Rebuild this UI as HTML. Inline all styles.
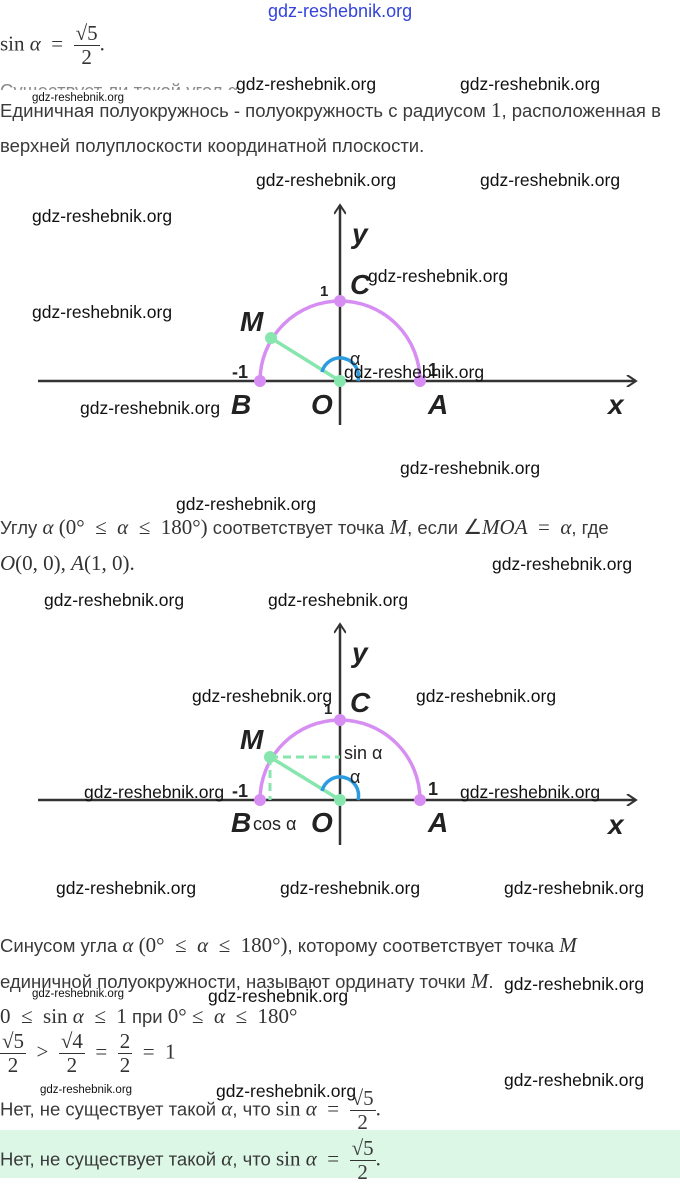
<!DOCTYPE html>
<html><head><meta charset="utf-8"><style>
body{margin:0;width:680px;height:1178px;background:#fff;position:relative;overflow:hidden;font-family:"Liberation Sans",sans-serif;color:#333}
.a{position:absolute;white-space:nowrap}
.t{font-size:18.5px;color:#3a3a3a}
.m{font-family:"Liberation Serif",serif;font-size:21px;color:#333}
.w{font-family:"Liberation Sans",sans-serif;font-size:17.5px;color:#111}
.ws{font-family:"Liberation Sans",sans-serif;font-size:11.5px;color:#111}
.fr{display:inline-block;vertical-align:middle;text-align:center;line-height:23px;font-family:"Liberation Serif",serif;font-size:21px}
.fr span{display:block}
.fr .n{border-bottom:1px solid #333;padding:0 2px}
</style></head><body>
<div class="a" style="left:268px;top:1px;font-size:18px;color:#3344dd">gdz-reshebnik.org</div>
<div class="a m" style="left:0;top:22px">sin <i>α</i> &nbsp;= &nbsp;<span class="fr"><span class="n">√5</span><span>2</span></span>.</div>
<div class="a t" style="left:0;top:80px;color:#888;clip-path:inset(0 0 55% 0)">Существует ли такой угол α</div>
<div class="a ws" style="left:32px;top:92px">gdz-reshebnik.org</div>
<div class="a w" style="left:236px;top:74px">gdz-reshebnik.org</div>
<div class="a w" style="left:460px;top:74px">gdz-reshebnik.org</div>
<div class="a t" style="left:0;top:98px">Единичная полуокружнось - полуокружность с радиусом <span class="m">1</span>, расположенная в</div>
<div class="a t" style="left:0;top:135px">верхней полуплоскости координатной плоскости.</div>

<svg class="a" style="left:0;top:0" width="680" height="1178">
<defs><marker id="ar" markerWidth="12" markerHeight="12" refX="10" refY="6" orient="auto" markerUnits="userSpaceOnUse"><path d="M1,0 L10,6 L1,12" fill="none" stroke="#333" stroke-width="2"/></marker></defs>
<g stroke="#333" stroke-width="2.5" fill="none">
<line x1="38" y1="381" x2="636" y2="381" marker-end="url(#ar)"/>
<line x1="340" y1="425" x2="340" y2="205" marker-end="url(#ar)"/>
<line x1="38" y1="800" x2="636" y2="800" marker-end="url(#ar)"/>
<line x1="340" y1="845" x2="340" y2="624" marker-end="url(#ar)"/>
</g>
<g fill="none">
<path d="M260,381 A80,80 0 0 1 420,381" stroke="#d68ef2" stroke-width="3.5"/>
<line x1="271" y1="338" x2="340" y2="381" stroke="#86e6ad" stroke-width="3.5"/>
<path d="M322,372 A18,18 0 0 1 358,381" stroke="#2d9be0" stroke-width="3.5"/>
<path d="M260,800 A80,80 0 0 1 420,800" stroke="#d68ef2" stroke-width="3.5"/>
<line x1="270" y1="757" x2="340" y2="800" stroke="#86e6ad" stroke-width="3.5"/>
<line x1="270" y1="757" x2="340" y2="757" stroke="#86e6ad" stroke-width="3" stroke-dasharray="8,5"/>
<line x1="270" y1="757" x2="270" y2="800" stroke="#86e6ad" stroke-width="3" stroke-dasharray="8,5"/>
<path d="M322,791 A18,18 0 0 1 358,800" stroke="#2d9be0" stroke-width="3.5"/>
</g>
<g fill="#d68ef2"><circle cx="260" cy="381" r="6"/><circle cx="420" cy="381" r="6"/><circle cx="340" cy="301" r="6"/>
<circle cx="260" cy="800" r="6"/><circle cx="420" cy="800" r="6"/><circle cx="340" cy="720" r="6"/></g>
<g fill="#86e6ad"><circle cx="271" cy="338" r="6"/><circle cx="340" cy="381" r="6"/><circle cx="270" cy="757" r="6"/><circle cx="340" cy="800" r="6"/></g>
<g font-family="Liberation Sans,sans-serif" font-style="italic" font-weight="bold" font-size="28" fill="#222">
<text x="352" y="243">y</text><text x="350" y="294">C</text><text x="240" y="331">M</text><text x="231" y="414">B</text><text x="311" y="414">O</text><text x="428" y="414">A</text><text x="608" y="414">x</text>
<text x="352" y="662">y</text><text x="350" y="712">C</text><text x="240" y="749">M</text><text x="231" y="832">B</text><text x="311" y="832">O</text><text x="428" y="832">A</text><text x="608" y="834">x</text>
</g>
<g font-family="Liberation Sans,sans-serif" font-size="18" fill="#222">
<text x="320" y="296" font-weight="bold" font-size="15">1</text><text x="232" y="378" font-weight="bold">-1</text><text x="428" y="376" font-weight="bold">1</text><text x="350" y="365">α</text>
<text x="324" y="714" font-weight="bold" font-size="15">1</text><text x="232" y="797" font-weight="bold">-1</text><text x="428" y="795" font-weight="bold">1</text><text x="350" y="783">α</text>
<text x="344" y="759">sin α</text><text x="253" y="830">cos α</text>
</g>
</svg>

<div class="a w" style="left:256px;top:170px">gdz-reshebnik.org</div>
<div class="a w" style="left:480px;top:170px">gdz-reshebnik.org</div>
<div class="a w" style="left:32px;top:206px">gdz-reshebnik.org</div>
<div class="a w" style="left:368px;top:266px">gdz-reshebnik.org</div>
<div class="a w" style="left:32px;top:302px">gdz-reshebnik.org</div>
<div class="a w" style="left:344px;top:362px">gdz-reshebnik.org</div>
<div class="a w" style="left:80px;top:398px">gdz-reshebnik.org</div>
<div class="a w" style="left:400px;top:458px">gdz-reshebnik.org</div>
<div class="a w" style="left:176px;top:494px">gdz-reshebnik.org</div>
<div class="a t" style="left:0;top:515px">Углу <span class="m"><i>α</i> (0° &nbsp;≤ &nbsp;<i>α</i> &nbsp;≤ &nbsp;180°)</span> соответствует точка <span class="m"><i>M</i></span>, если <span class="m">∠<i>MOA</i> &nbsp;= &nbsp;<i>α</i></span>, где</div>
<div class="a m" style="left:0;top:551px"><i>O</i>(0, 0), <i>A</i>(1, 0).</div>
<div class="a w" style="left:492px;top:554px">gdz-reshebnik.org</div>
<div class="a w" style="left:44px;top:590px">gdz-reshebnik.org</div>
<div class="a w" style="left:268px;top:590px">gdz-reshebnik.org</div>
<div class="a w" style="left:192px;top:686px">gdz-reshebnik.org</div>
<div class="a w" style="left:416px;top:686px">gdz-reshebnik.org</div>
<div class="a w" style="left:84px;top:782px">gdz-reshebnik.org</div>
<div class="a w" style="left:460px;top:782px">gdz-reshebnik.org</div>
<div class="a w" style="left:56px;top:878px">gdz-reshebnik.org</div>
<div class="a w" style="left:280px;top:878px">gdz-reshebnik.org</div>
<div class="a w" style="left:504px;top:878px">gdz-reshebnik.org</div>

<div class="a t" style="left:0;top:933px">Синусом угла <span class="m"><i>α</i> (0° &nbsp;≤ &nbsp;<i>α</i> &nbsp;≤ &nbsp;180°)</span>, которому соответствует точка <span class="m"><i>M</i></span></div>
<div class="a t" style="left:0;top:969px">единичной полуокружности, называют ординату точки <span class="m"><i>M</i></span>.</div>
<div class="a w" style="left:504px;top:974px">gdz-reshebnik.org</div>
<div class="a ws" style="left:32px;top:988px">gdz-reshebnik.org</div>
<div class="a w" style="left:208px;top:986px">gdz-reshebnik.org</div>
<div class="a t" style="left:0;top:1004px"><span class="m">0 &nbsp;≤ &nbsp;sin <i>α</i> &nbsp;≤ &nbsp;1</span> при <span class="m">0° ≤ &nbsp;<i>α</i> &nbsp;≤ &nbsp;180°</span></div>
<div class="a m" style="left:0;top:1030px"><span class="fr"><span class="n">√5</span><span>2</span></span> &nbsp;&gt; &nbsp;<span class="fr"><span class="n">√4</span><span>2</span></span> &nbsp;= &nbsp;<span class="fr"><span class="n">2</span><span>2</span></span> &nbsp;= &nbsp;1</div>
<div class="a w" style="left:504px;top:1070px">gdz-reshebnik.org</div>
<div class="a ws" style="left:40px;top:1084px">gdz-reshebnik.org</div>
<div class="a w" style="left:216px;top:1081px">gdz-reshebnik.org</div>
<div class="a t" style="left:0;top:1087px">Нет, не существует такой <span class="m"><i>α</i></span>, что <span class="m">sin <i>α</i> &nbsp;= &nbsp;</span><span class="fr"><span class="n">√5</span><span>2</span></span><span class="m">.</span></div>
<div class="a" style="left:0;top:1130px;width:680px;height:48px;background:#dcf7e6"></div>
<div class="a t" style="left:0;top:1137px">Нет, не существует такой <span class="m"><i>α</i></span>, что <span class="m">sin <i>α</i> &nbsp;= &nbsp;</span><span class="fr"><span class="n">√5</span><span>2</span></span><span class="m">.</span></div>
</body></html>
